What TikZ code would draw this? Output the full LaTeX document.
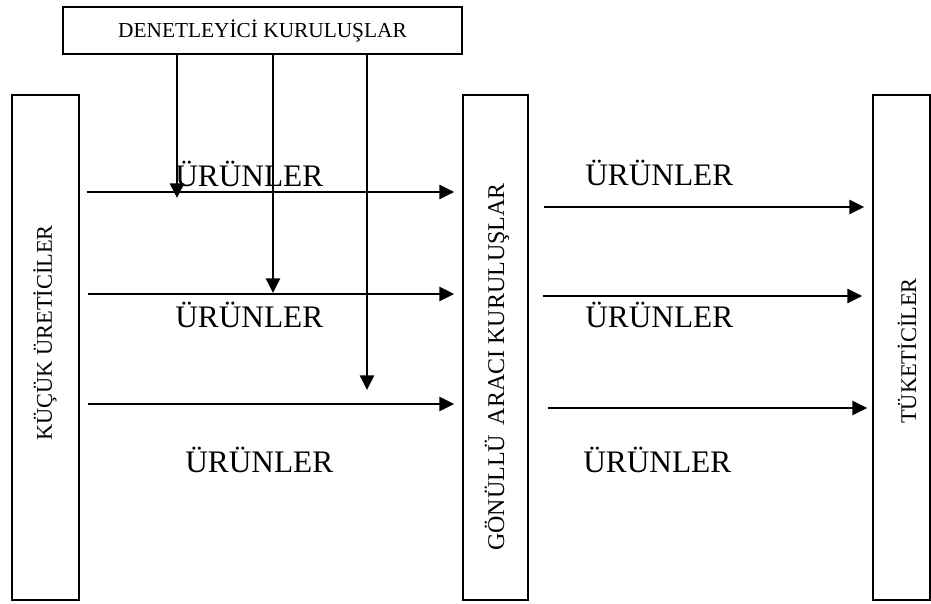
\documentclass[tikz,border=0pt]{standalone}
\usepackage{fontspec}
\setmainfont{Liberation Serif}
\usetikzlibrary{arrows.meta}
\begin{document}
\begin{tikzpicture}[x=0.75pt,y=-0.75pt,
  box/.style={draw,line width=1.3pt,inner sep=0pt},
  arr/.style={line width=1.9pt,-{Triangle[length=11pt,width=10.5pt]}},
  lbl/.style={font=\fontsize{23.5}{26}\selectfont,inner sep=0pt,anchor=base west},
  sm/.style={font=\fontsize{16}{19}\selectfont,inner sep=0pt},
  vt/.style={font=\fontsize{16.8}{19}\selectfont,inner sep=0pt,rotate=90}]
\useasboundingbox (0,0) rectangle (931,603);
% boxes
\node[box,sm,minimum width=299.25pt,minimum height=35.25pt] (den) at (262.5,30.5) {DENETLEYİCİ KURULUŞLAR};
\node[box,minimum width=50.25pt,minimum height=378.75pt] (ku) at (45.5,347.5) {};
\node[box,minimum width=48.75pt,minimum height=378.75pt] (ga) at (495.5,347.5) {};
\node[box,minimum width=42.75pt,minimum height=378.75pt] (tk) at (901.5,347.5) {};
% vertical texts
\node[vt] (kut) at (45,333) {KÜÇÜK ÜRETİCİLER};
\node[vt,font=\fontsize{18}{20}\selectfont] (gat) at (497,367) {GÖNÜLLÜ\hspace{0.15em} ARACI KURULUŞLAR};
\node[vt] (tkt) at (907,351) {TÜKETİCİLER};
% row coordinates
\coordinate (r1) at (0,192);
\coordinate (r2) at (0,294);
\coordinate (r3) at (0,404);
\coordinate (s1) at (0,207);
\coordinate (s2) at (0,296);
\coordinate (s3) at (0,408);
% left arrows
\draw[arr,shorten <=5.25pt,shorten >=6pt] (ku.east |- r1) -- (ga.west |- r1);
\draw[arr,shorten <=6pt,shorten >=6pt] (ku.east |- r2) -- (ga.west |- r2);
\draw[arr,shorten <=6pt,shorten >=6pt] (ku.east |- r3) -- (ga.west |- r3);
% right arrows
\draw[arr,shorten <=11.25pt,shorten >=6pt] (ga.east |- s1) -- (tk.west |- s1);
\draw[arr,shorten <=10.5pt,shorten >=7.5pt] (ga.east |- s2) -- (tk.west |- s2);
\draw[arr,shorten <=14.25pt,shorten >=3.75pt] (ga.east |- s3) -- (tk.west |- s3);
% vertical arrows from supervisors
\coordinate (v1) at (177,198);
\coordinate (v2) at (273,293);
\coordinate (v3) at (367,390);
\draw[arr] (den.south -| v1) -- (v1);
\draw[arr] (den.south -| v2) -- (v2);
\draw[arr] (den.south -| v3) -- (v3);
% labels
\node[lbl] (u1) at (175,186) {ÜRÜNLER};
\node[lbl] (u2) at (175,327) {ÜRÜNLER};
\node[lbl] (u3) at (185,472) {ÜRÜNLER};
\node[lbl] (u4) at (585,185) {ÜRÜNLER};
\node[lbl] (u5) at (585,327) {ÜRÜNLER};
\node[lbl] (u6) at (583,472) {ÜRÜNLER};
\end{tikzpicture}
\end{document}
